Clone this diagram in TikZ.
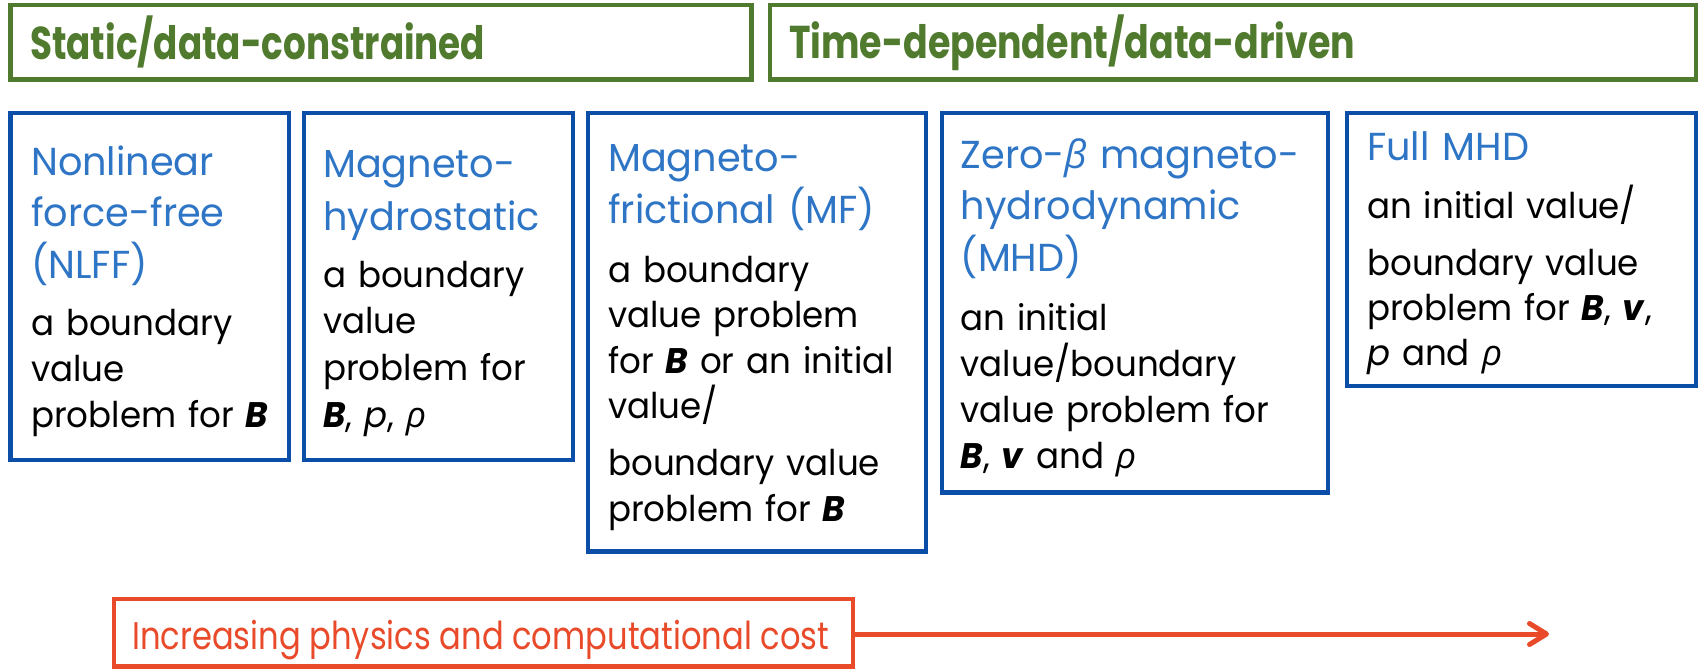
\documentclass[tikz,border=0pt]{standalone}
\usepackage{fontspec}
\usepackage{graphicx}
\setmainfont{Poppins}
\newfontfamily\bodyf[FakeStretch=0.96]{Poppins}
\newfontfamily\ttlf[FakeStretch=0.98]{Poppins}
\newfontfamily\grk{Open Sans}
\usetikzlibrary{arrows.meta}
\definecolor{hdgreen}{HTML}{507A2E}
\definecolor{boxblue}{HTML}{0B4EA8}
\definecolor{ttlblue}{HTML}{2E75C6}
\definecolor{costred}{HTML}{E84A2A}
\newcommand{\Bv}{\textbf{\textit{B}}}
\newcommand{\vvec}{\textbf{\textit{v}}}
\newcommand{\rh}{{\grk\itshape ρ}}
\newcommand{\bt}{{\grk\itshape β}}
\newcommand{\pp}{\textit{p}}
\begin{document}
\begin{tikzpicture}[x=1pt,y=-1pt,
  grnbox/.style={draw=hdgreen, line width=4.5pt, inner sep=0pt, outer sep=0pt, anchor=north west},
  bluebox/.style={draw=boxblue, line width=4.2pt, inner sep=0pt, outer sep=0pt, anchor=north west},
  redbox/.style={draw=costred, line width=4.2pt, inner sep=0pt, outer sep=0pt, anchor=north west},
  ttl/.style={anchor=base west, inner sep=0pt, text width=420pt, align=left, text=ttlblue, font=\ttlf\fontsize{39}{52}\selectfont},
  bdy/.style={anchor=base west, inner sep=0pt, text width=420pt, align=left, font=\bodyf\fontsize{35.5}{46}\selectfont},
  hd/.style={anchor=base west, inner sep=0pt, text=hdgreen, font=\fontsize{46}{50}\selectfont\bfseries},
  costtxt/.style={anchor=base west, inner sep=0pt, text=costred, font=\fontsize{38.5}{40}\selectfont},
]
\useasboundingbox (0,0) rectangle (1700,669);
% header boxes
\node[grnbox, minimum width=740.8pt, minimum height=74.5pt] (g1) at (10.7,5) {};
\node[grnbox, minimum width=926pt, minimum height=74.5pt] (g2) at (770,5) {};
\node[hd] (h1) at (30,60) {\resizebox{455pt}{\height}{Static/data-constrained}};
\node[hd] (h2) at (789,59) {\resizebox{566pt}{\height}{Time-dependent/data-driven}};
% model boxes
\node[bluebox, minimum width=278.5pt, minimum height=347pt] (nlff) at (10.5,113) {};
\node[bluebox, minimum width=269pt, minimum height=347pt] (mhs) at (304,113) {};
\node[bluebox, minimum width=338pt, minimum height=438.5pt] (mf) at (588,113) {};
\node[bluebox, minimum width=386pt, minimum height=379.5pt] (zb) at (942,113) {};
\node[bluebox, minimum width=349pt, minimum height=273pt] (full) at (1347,113) {};
% NLFF
\node[ttl, font=\ttlf\fontsize{39}{51.5}\selectfont] (t1) at (31,175) {Nonlinear\\force-free\\(NLFF)};
\node[bdy] (b1) at (31,335) {a boundary\\value\\problem for \Bv};
% MHS
\node[ttl, font=\ttlf\fontsize{39}{53}\selectfont] (t2) at (323,177) {Magneto-\\hydrostatic};
\node[bdy, font=\bodyf\fontsize{35.5}{46.7}\selectfont] (b2) at (323,287) {a boundary\\value\\problem for\\\Bv, \pp, \rh};
% MF
\node[ttl] (t3) at (608,171) {Magneto-\\frictional (MF)};
\node[bdy, font=\bodyf\fontsize{35.5}{45.6}\selectfont] (b3) at (608,282) {a boundary\\value problem\\for \Bv{} or an initial\\value/\\[11pt]boundary value\\problem for \Bv};
% Zero-beta
\node[ttl, font=\ttlf\fontsize{39}{51.5}\selectfont] (t4) at (960.5,168) {Zero-\bt{} magneto-\\hydrodynamic\\(MHD)};
\node[bdy] (b4) at (960.5,330) {an initial\\value/boundary\\value problem for\\\Bv, \vvec{} and \rh};
% Full MHD
\node[ttl] (t5) at (1367,160) {Full MHD};
\node[bdy, font=\bodyf\fontsize{35.5}{45}\selectfont] (b5) at (1367,218) {an initial value/\\[12pt]boundary value\\problem for \Bv, \vvec,\\\pp{} and \rh};
% cost arrow
\node[redbox, minimum width=739pt, minimum height=67.5pt] (cost) at (114,599) {};
\node[costtxt] (ct) at (132,649) {\resizebox{697pt}{\height}{Increasing physics and computational cost}};
\coordinate (tip) at (1549,634);
\draw[costred, line width=5pt, -{Straight Barb[length=17pt, width=21pt, round]}] (cost.east |- tip) -- (tip);
\end{tikzpicture}
\end{document}
